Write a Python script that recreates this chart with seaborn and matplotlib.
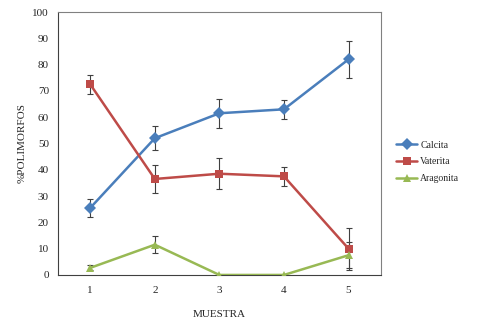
import pandas as pd
import matplotlib.pyplot as plt
import seaborn as sns

# Data
muestra = [1, 2, 3, 4, 5]
calcita = [25.5, 52, 61.5, 63, 82]
calcita_err = [3.5, 4.5, 5.5, 3.5, 7]
vaterita = [72.5, 36.5, 38.5, 37.5, 10]
vaterita_err = [3.5, 5.5, 6, 3.5, 8]
aragonita = [2.7, 11.5, 0, 0, 7.5]
aragonita_err = [1, 3.3, 0, 0, 5]

series = ["Calcita", "Vaterita", "Aragonita"]
colors = ["#4A7EBB", "#BE4B48", "#98B954"]
markers = ["D", "s", "^"]

df = pd.DataFrame({
    "MUESTRA": muestra * 3,
    "valor": calcita + vaterita + aragonita,
    "err": calcita_err + vaterita_err + aragonita_err,
    "serie": [s for s in series for _ in muestra],
})

sns.set_style("white")
plt.rcParams["font.family"] = ["Liberation Serif", "DejaVu Serif"]

fig = plt.figure(figsize=(4.79, 3.25), dpi=100)
ax = fig.add_axes([0.121, 0.154, 0.674, 0.809])

# Error bars first so lines sit on top
for s, c in zip(series, colors):
    sub = df[df["serie"] == s]
    ax.errorbar(sub["MUESTRA"], sub["valor"], yerr=sub["err"], fmt="none",
                ecolor="#404040", elinewidth=0.8, capsize=2, capthick=0.8, zorder=2)

sns.lineplot(data=df, x="MUESTRA", y="valor", hue="serie", style="serie",
             palette=colors, markers=markers, dashes=False, linewidth=1.8,
             markersize=6, markeredgewidth=0, ax=ax, zorder=3)

ax.set_xlim(0.5, 5.5)
ax.set_ylim(0, 100)
ax.set_xticks(muestra)
ax.set_xticks([1.5, 2.5, 3.5, 4.5], minor=True)
ax.set_yticks(range(0, 101, 10))
ax.tick_params(axis="x", which="major", length=0, labelsize=8, pad=8)
ax.tick_params(axis="x", which="minor", length=3, direction="in", color="#404040")
ax.tick_params(axis="y", length=3, direction="out", labelsize=8, color="#404040")
ax.set_xlabel("MUESTRA", fontsize=8, labelpad=11)
ax.set_ylabel("%POLIMORFOS", fontsize=8)

for side in ["top", "right"]:
    ax.spines[side].set_color("#808080")
for side in ["left", "bottom"]:
    ax.spines[side].set_color("#404040")

ax.legend(loc="center left", bbox_to_anchor=(1.02, 0.43), frameon=False,
          fontsize=7, handlelength=2.2, handletextpad=0.3, labelspacing=0.8)

fig.savefig("out.png", dpi=100)
